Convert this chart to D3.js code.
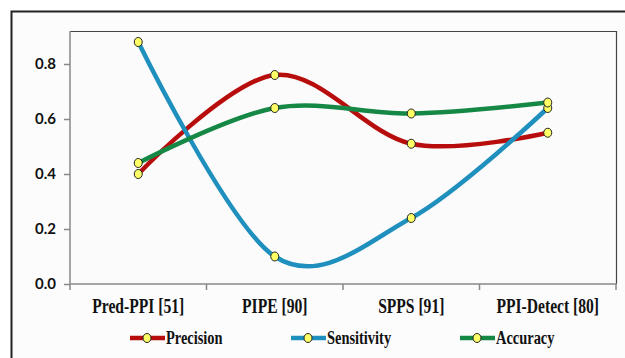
<!DOCTYPE html>
<html>
<head>
<meta charset="utf-8">
<script src="https://cdn.jsdelivr.net/npm/d3@7"></script>
<style>
  html, body { margin: 0; padding: 0; background: #ffffff; }
  svg { display: block; }
</style>
</head>
<body>
<svg id="chart" width="625" height="358"></svg>
<script>
// Categories and series values
const categories = ["Pred-PPI [51]", "PIPE [90]", "SPPS [91]", "PPI-Detect [80]"];
const precision   = [0.40, 0.76, 0.51, 0.55];
const sensitivity = [0.88, 0.10, 0.24, 0.64];
const accuracy    = [0.44, 0.64, 0.62, 0.66];
const yTicks = [0.0, 0.2, 0.4, 0.6, 0.8];

const series = [
  { name: "Precision",   values: precision,   color: "#b80d0d" },
  { name: "Sensitivity", values: sensitivity, color: "#1f8fbd" },
  { name: "Accuracy",    values: accuracy,    color: "#168845" }
];

const svg = d3.select("#chart");
const W = 625, H = 358;
const plot = { left: 70, top: 31, right: 616, bottom: 284 };
const serifFont = "'Liberation Serif', 'DejaVu Serif', serif";
const condensed = 0.78;

// Outer chart frame (top and left edges visible)
svg.append("rect").attr("x", 0).attr("y", 0).attr("width", W).attr("height", H).attr("fill", "#ffffff");
svg.append("rect").attr("x", 12.5).attr("y", 12.5).attr("width", W - 12).attr("height", H - 12).attr("fill", "#fcfcfc");
svg.append("path")
  .attr("d", `M11.5,${H} L11.5,11.5 L${W},11.5`)
  .attr("fill", "none").attr("stroke", "#222").attr("stroke-width", 2);

// Plot area
svg.append("rect")
  .attr("x", plot.left).attr("y", plot.top)
  .attr("width", plot.right - plot.left).attr("height", plot.bottom - plot.top)
  .attr("fill", "#fbfbfb");
svg.append("path")
  .attr("d", `M${plot.left},${plot.top + 0.5} L${plot.right + 0.5},${plot.top + 0.5} L${plot.right + 0.5},${plot.bottom}`)
  .attr("fill", "none").attr("stroke", "#444").attr("stroke-width", 1.2);

const x = d3.scaleBand().domain(categories).range([plot.left, plot.right]);
const y = d3.scaleLinear().domain([0, 0.92]).range([plot.bottom, plot.top]);

// Y axis
const yAxis = svg.append("g")
  .attr("transform", `translate(${plot.left},0)`)
  .call(d3.axisLeft(y).tickValues(yTicks).tickFormat(d3.format(".1f")).tickSize(6).tickPadding(8));
yAxis.select(".domain").attr("stroke", "#888").attr("stroke-width", 1.5).attr("d", `M0,${plot.top}V${plot.bottom}`);
yAxis.selectAll(".tick line").attr("stroke", "#888").attr("stroke-width", 1.5);
yAxis.selectAll(".tick text")
  .attr("fill", "#111")
  .style("font-family", "Lato, 'Open Sans', sans-serif")
  .style("font-weight", "bold")
  .style("font-size", "15px");

// X axis with ticks at category boundaries
const xAxisG = svg.append("g").attr("transform", `translate(0,${plot.bottom})`);
xAxisG.append("line")
  .attr("x1", plot.left).attr("x2", plot.right + 1)
  .attr("stroke", "#888").attr("stroke-width", 1.5);
const bounds = categories.map(c => x(c)).concat([x(categories[categories.length - 1]) + x.bandwidth()]);
xAxisG.selectAll("line.tk").data(bounds).join("line")
  .attr("class", "tk")
  .attr("x1", d => d).attr("x2", d => d)
  .attr("y1", 0).attr("y2", 6)
  .attr("stroke", "#888").attr("stroke-width", 1.5);
xAxisG.selectAll("text.cat").data(categories).join("text")
  .attr("class", "cat")
  .attr("transform", d => `translate(${x(d) + x.bandwidth() / 2},29) scale(${condensed},1)`)
  .attr("text-anchor", "middle")
  .attr("fill", "#111")
  .style("font-family", serifFont)
  .style("font-weight", "bold")
  .style("font-size", "20px")
  .text(d => d);

// Smoothed series lines
const line = d3.line()
  .x((d, i) => x(categories[i]) + x.bandwidth() / 2)
  .y(d => y(d))
  .curve(d3.curveCardinal.tension(0));

const lines = svg.append("g");
series.forEach(s => {
  lines.append("path")
    .datum(s.values)
    .attr("d", line)
    .attr("fill", "none")
    .attr("stroke", s.color)
    .attr("stroke-width", 4.5)
    .attr("stroke-linecap", "round");
});

// Markers
const markers = svg.append("g");
series.forEach(s => {
  markers.selectAll(null).data(s.values).join("ellipse")
    .attr("cx", (d, i) => x(categories[i]) + x.bandwidth() / 2)
    .attr("cy", d => y(d))
    .attr("rx", 4).attr("ry", 4.5)
    .attr("fill", "#ffff66")
    .attr("stroke", "#222")
    .attr("stroke-width", 1);
});

// Legend
const legendX = [130, 291, 460];
const legend = svg.append("g").attr("transform", "translate(0,338)");
series.forEach((s, i) => {
  const g = legend.append("g").attr("transform", `translate(${legendX[i]},0)`);
  g.append("line").attr("x1", 0).attr("x2", 35).attr("y1", 0).attr("y2", 0)
    .attr("stroke", s.color).attr("stroke-width", 4.5);
  g.append("ellipse").attr("cx", 17).attr("cy", 0).attr("rx", 4).attr("ry", 4.5)
    .attr("fill", "#ffff66").attr("stroke", "#222").attr("stroke-width", 1);
  g.append("text")
    .attr("transform", `translate(36,6) scale(${condensed},1)`)
    .attr("fill", "#111")
    .style("font-family", serifFont)
    .style("font-weight", "bold")
    .style("font-size", "18.5px")
    .text(s.name);
});
</script>
</body>
</html>
